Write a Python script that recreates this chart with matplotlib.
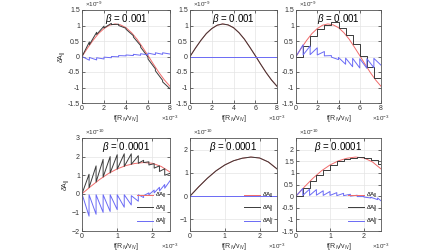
import matplotlib
matplotlib.use("Agg")
import matplotlib.pyplot as plt

plt.rcParams['font.family'] = ['Liberation Sans', 'DejaVu Sans']
plt.rcParams['mathtext.fontset'] = 'custom'
plt.rcParams['mathtext.rm'] = 'Liberation Sans'
plt.rcParams['mathtext.it'] = 'Liberation Sans:italic'

# ---------------- data (t in 1e-3 R_N/v_N) ----------------
# top row: beta = 0.001, dA in 1e-9
t_top = [0, 0.5, 1, 1.5, 2, 2.5, 3, 3.5, 4, 4.5, 5, 5.5, 6, 6.5, 7, 7.5, 8]
red_top = [0, 0.27, 0.52, 0.74, 0.90, 1.01, 1.05, 1.02, 0.93, 0.77, 0.56,
           0.30, 0.03, -0.25, -0.52, -0.76, -0.96]
black_top_mid = [0, 0.27, 0.52, 0.74, 0.90, 1.01, 1.05, 1.02, 0.93, 0.77, 0.56,
                 0.30, 0.03, -0.25, -0.52, -0.76, -0.96]
blue_top_mid = [0] * 17

t_jag_top = [0, 0.67, 0.67, 1.33, 1.33, 2.0, 2.0, 2.67, 2.67, 3.33, 3.33, 4.0, 4.0,
             4.67, 4.67, 5.33, 5.33, 6.0, 6.0, 6.67, 6.67, 7.33, 7.33, 8.0]
black_top_left = [0, 0.47, 0.38, 0.78, 0.71, 0.98, 0.92, 1.07, 1.03, 1.04, 1.00,
                  0.91, 0.88, 0.67, 0.63, 0.35, 0.30, -0.02, -0.08, -0.40, -0.46,
                  -0.77, -0.82, -1.04]
blue_top_left = [0, -0.12, -0.03, -0.11, -0.04, -0.08, -0.02, -0.04, 0.0, -0.01,
                 0.03, 0.02, 0.05, 0.03, 0.07, 0.04, 0.09, 0.05, 0.11, 0.06, 0.12,
                 0.07, 0.12, 0.08]

t_steps_top = [0, 0.67, 1.33, 2.0, 2.67, 3.33, 4.0, 4.67, 5.33, 6.0, 6.67, 7.33, 8.0]
black_top_right = [0, 0.35, 0.67, 0.90, 1.03, 1.10, 0.93, 0.70, 0.39, 0.03,
                   -0.34, -0.70, -0.70]
blue_top_right = [0, 0.38, 0.05, 0.34, 0.06, 0.28, 0.05, 0.16, 0.02, 0.03, -0.02,
                  -0.10, -0.03, -0.25, -0.05, -0.33, -0.06, -0.37, -0.07, -0.38,
                  -0.07, -0.36, -0.06, -0.28]

# bottom row: beta = 0.0001, dA in 1e-10
t_bot = [0, 0.25, 0.5, 0.75, 1.0, 1.25, 1.5, 1.75, 2.0, 2.25, 2.5]
red_bot = [0, 0.40, 0.77, 1.09, 1.34, 1.52, 1.63, 1.68, 1.64, 1.47, 1.17]
black_bot_mid = [0, 0.40, 0.77, 1.09, 1.34, 1.52, 1.63, 1.68, 1.64, 1.47, 1.17]
blue_bot_mid = [0] * 11

t_jag_bl = [0, 0.2, 0.2, 0.4, 0.4, 0.6, 0.6, 0.8, 0.8, 1.0, 1.0, 1.2, 1.2, 1.4, 1.4,
            1.6, 1.6, 1.75, 1.75, 1.9, 1.9, 2.05, 2.05, 2.2, 2.2, 2.35, 2.35, 2.5]
black_bot_left = [0, 1.05, 0.33, 1.5, 0.63, 1.85, 0.9, 2.0, 1.12, 2.1, 1.32, 2.15,
                  1.47, 2.15, 1.58, 2.05, 1.64, 1.8, 1.68, 1.72, 1.55, 1.62, 1.38,
                  1.5, 1.2, 1.35, 1.0, 1.1]
blue_bot_left = [0, -1.2, -0.05, -1.1, -0.05, -1.0, -0.05, -0.95, -0.05, -0.85,
                 -0.05, -0.72, -0.05, -0.6, -0.1, -0.4, -0.05, -0.2, -0.1, 0.05,
                 -0.05, 0.2, 0.05, 0.35, 0.15, 0.5, 0.3, 0.7]

t_steps_bot = [0, 0.2, 0.4, 0.6, 0.8, 1.0, 1.2, 1.4, 1.6, 1.8, 2.0, 2.2, 2.4, 2.5]
black_bot_right = [0, 0.33, 0.63, 0.91, 1.14, 1.34, 1.49, 1.60, 1.66, 1.68, 1.64,
                   1.55, 1.40, 1.40]
t_jag_br = [0, 0.2, 0.2, 0.4, 0.4, 0.6, 0.6, 0.8, 0.8, 1.0, 1.0, 1.2, 1.2, 1.4, 1.4,
            1.6, 1.6, 1.8, 1.8, 2.0, 2.0, 2.2, 2.2, 2.4, 2.4, 2.5]
blue_bot_right = [0, 0.33, 0.03, 0.30, 0.03, 0.28, 0.04, 0.23, 0.03, 0.2, 0.03,
                  0.15, 0.02, 0.12, 0.02, 0.08, 0.0, 0.04, -0.02, -0.02, -0.04,
                  -0.08, -0.05, -0.15, -0.08, -0.2]

legend_labels = [r'$\delta$A$_{||}$', r'$\delta$A$_{||}^{s}$', r'$\delta$A$_{||}^{h}$']
titles = [r'$\beta$ = 0.001', r'$\beta$ = 0.0001']

RED = '#f06a6a'
BLK = '#3a3a3a'
BLU = '#6a6af5'

W, H = 448, 252
fig = plt.figure(figsize=(W / 100, H / 100), dpi=100)

cols = [(82, 170), (190, 277), (296, 381)]
rows = [(10, 103), (138, 231)]


def make_ax(col, row):
    x0, x1 = cols[col]
    y0, y1 = rows[row]
    ax = fig.add_axes([x0 / W, 1 - y1 / H, (x1 - x0) / W, (y1 - y0) / H])
    for s in ax.spines.values():
        s.set_color('#555555')
        s.set_linewidth(0.6)
    ax.tick_params(direction='in', length=2, width=0.5, labelsize=5, pad=1.5,
                   colors='#333333', top=True, right=True)
    ax.grid(True, color='#e4e4e4', linewidth=0.5)
    ax.set_axisbelow(True)
    return ax


lw = 0.7
for row in range(2):
    for col in range(3):
        ax = make_ax(col, row)
        if row == 0:
            ax.set_xlim(0, 8)
            ax.set_ylim(-1.5, 1.5)
            ax.set_xticks([0, 2, 4, 6, 8])
            ax.set_yticks([-1.5, -1, -0.5, 0, 0.5, 1, 1.5])
            ax.set_yticklabels(['-1.5', '-1', '-0.5', '0', '0.5', '1', '1.5'])
            yoff = r'$\times$10$^{-9}$'
            if col == 0:
                ax.plot(t_top, red_top, color=RED, lw=lw)
                ax.plot(t_jag_top, black_top_left, color=BLK, lw=lw)
                ax.plot(t_jag_top, blue_top_left, color=BLU, lw=lw)
            elif col == 1:
                ax.plot(t_top, red_top, color=RED, lw=lw)
                ax.plot(t_top, black_top_mid, color=BLK, lw=lw)
                ax.plot(t_top, blue_top_mid, color=BLU, lw=lw)
            else:
                ax.plot(t_top, red_top, color=RED, lw=lw)
                ax.plot(t_steps_top, black_top_right, color=BLK, lw=lw,
                        drawstyle='steps-post')
                ax.plot(t_jag_top, blue_top_right, color=BLU, lw=lw)
        else:
            ax.set_xlim(0, 2.5)
            ax.set_xticks([0, 1, 2])
            yoff = r'$\times$10$^{-10}$'
            if col == 0:
                ax.set_ylim(-2, 3)
                ax.set_yticks([-2, -1, 0, 1, 2, 3])
                l1, = ax.plot(t_bot, red_bot, color=RED, lw=lw)
                l2, = ax.plot(t_jag_bl, black_bot_left, color=BLK, lw=lw)
                l3, = ax.plot(t_jag_bl, blue_bot_left, color=BLU, lw=lw)
            elif col == 1:
                ax.set_ylim(-1.5, 2.5)
                ax.set_yticks([-1, 0, 1, 2])
                l1, = ax.plot(t_bot, red_bot, color=RED, lw=lw)
                l2, = ax.plot(t_bot, black_bot_mid, color=BLK, lw=lw)
                l3, = ax.plot(t_bot, blue_bot_mid, color=BLU, lw=lw)
            else:
                ax.set_ylim(-1.5, 2.5)
                ax.set_yticks([-1.5, -1, -0.5, 0, 0.5, 1, 1.5, 2])
                ax.set_yticklabels(['-1.5', '-1', '-0.5', '0', '0.5', '1', '1.5', '2'])
                l1, = ax.plot(t_bot, red_bot, color=RED, lw=lw)
                l2, = ax.plot(t_steps_bot, black_bot_right, color=BLK, lw=lw,
                              drawstyle='steps-post')
                l3, = ax.plot(t_jag_br, blue_bot_right, color=BLU, lw=lw)
            ax.legend([l1, l2, l3], legend_labels, loc='lower right', frameon=False,
                      fontsize=4.5, handlelength=2.6, handletextpad=0.3,
                      labelspacing=0.35, borderaxespad=0.05)
        ax.set_title(titles[row], fontsize=7, y=1.0, pad=-8.5)
        ax.text(0.03, 1.01, yoff, transform=ax.transAxes, fontsize=4.5,
                color='#333333', ha='left', va='bottom')
        ax.text(1.0, -0.115, r'$\times$10$^{-3}$', transform=ax.transAxes,
                fontsize=4.5, color='#333333', ha='center', va='top')
        ax.set_xlabel(r't[R$_N$/v$_N$]', fontsize=5, labelpad=0.5, color='#333333')
        if col == 0:
            ax.set_ylabel(r'$\delta$A$_{||}$', fontsize=5, labelpad=0.5,
                          color='#333333')

fig.savefig('out.png', dpi=100)
